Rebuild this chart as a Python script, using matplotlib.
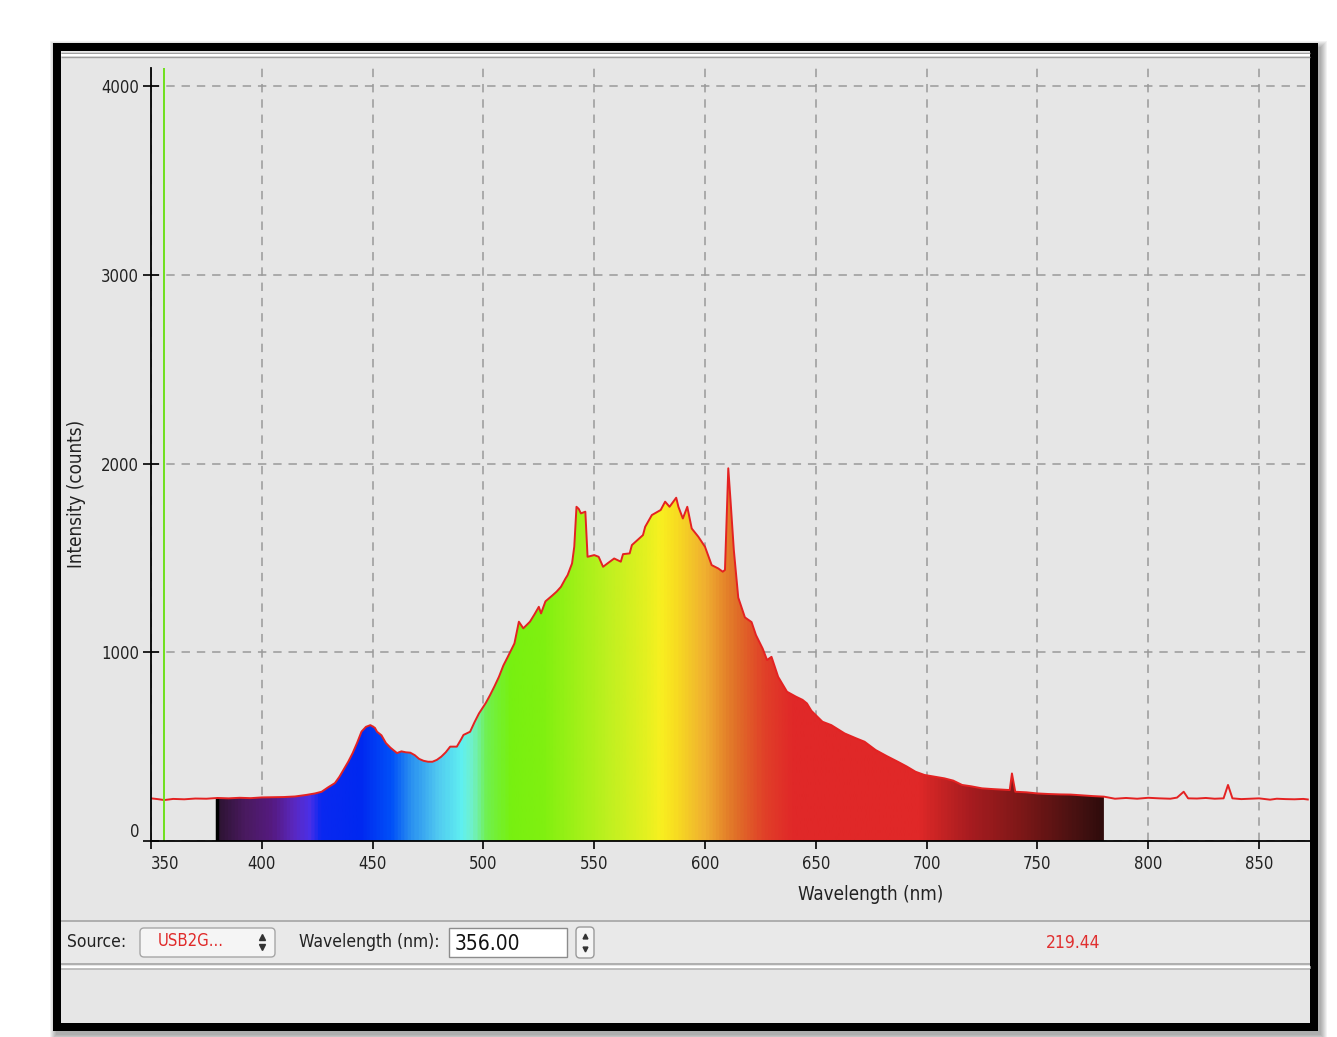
import numpy as np
import matplotlib.pyplot as plt
from matplotlib import patches
from matplotlib.colors import LinearSegmentedColormap

# Spectro (lecturas de la captura)
wavelength = [350, 353, 356, 360, 365, 370, 375, 380, 385, 390, 395, 400, 405, 410, 415,
              420, 424, 427, 430, 433, 435, 437, 439, 441, 443, 445, 447, 449, 451, 452,
              454, 456, 458, 461, 463, 465, 467, 469, 471, 473, 475, 477, 479, 481, 483,
              485, 488, 490, 491, 494, 496, 498, 501, 503, 505, 507, 509, 511, 514, 516,
              518, 521, 523, 525, 526, 528, 531, 533, 535, 537, 538, 540, 541, 542, 543,
              544, 546, 547, 550, 552, 554, 556, 559, 562, 563, 566, 567, 570, 572, 573,
              576, 580, 582, 584, 587, 588, 590, 592, 594, 597, 600, 603, 606, 608, 609,
              610, 610.5, 611.5, 613, 615, 618, 621, 623, 626, 628, 630, 633, 637, 641, 644,
              646, 648, 653, 657, 663, 668, 672, 677, 682, 687, 691, 695, 699, 704, 708, 712,
              716, 720, 725, 730, 735, 737.5, 738.5, 740, 745, 750, 755, 760, 765, 770, 775,
              780, 785, 790, 795, 800, 805, 810, 813, 816, 818, 822, 826, 830, 834, 836,
              838, 842, 846, 850, 855, 858, 862, 866, 870, 872]
intensity = [226, 222, 217, 223, 221, 225, 224, 228, 226, 229, 227, 231, 232, 233, 236,
             244, 252, 261, 285, 307, 340, 380, 420, 466, 520, 580, 605, 614, 600, 579,
             560, 519, 495, 466, 475, 470, 468, 455, 435, 425, 420, 420, 430, 447, 470,
             500, 500, 540, 562, 579, 630, 676, 730, 773, 820, 870, 930, 976, 1047, 1162,
             1127, 1162, 1200, 1241, 1206, 1270, 1300, 1321, 1347, 1390, 1409, 1471, 1560, 1771, 1760,
             1736, 1745, 1506, 1515, 1506, 1453, 1471, 1497, 1480, 1520, 1524, 1568, 1600, 1621, 1665,
             1727, 1754, 1798, 1771, 1819, 1771, 1709, 1771, 1656, 1612, 1559, 1462, 1444, 1427, 1436,
             1800, 1975, 1807, 1542, 1290, 1185, 1160, 1091, 1020, 959, 976, 870, 791, 765, 748,
             729, 690, 632, 614, 570, 545, 526, 482, 450, 420, 395, 367, 350, 340, 332, 320,
             297, 290, 279, 275, 272, 270, 358, 261, 258, 252, 249, 247, 246, 242, 238,
             235, 224, 228, 224, 229, 226, 224, 230, 261, 226, 225, 228, 224, 226, 297,
             226, 222, 224, 226, 219, 224, 222, 221, 223, 220]

band_start, band_end = 380, 780
cursor_nm = 356.00
cursor_value = 219.44
source_name = "USB2G..."

x_ticks = [350, 400, 450, 500, 550, 600, 650, 700, 750, 800, 850]
y_ticks = [0, 1000, 2000, 3000, 4000]

# colores del espectro visible
stop_nm = [380, 392, 404, 414, 421, 426, 444, 458, 467, 479, 490, 495, 501, 512, 527,
           542, 557, 572, 580, 586, 600, 614, 627, 640, 697, 706, 720, 742, 757, 772, 780]
stop_color = ['#2e1434', '#4a1a60', '#551a80', '#5a28c0', '#4a30e8', '#0a28f0', '#0028f0',
              '#0050f8', '#2a90f0', '#50c8f0', '#60f0f0', '#70f0c8', '#70f050', '#78f010',
              '#80f010', '#a0f018', '#c0f020', '#e0f020', '#f8f020', '#f8e020', '#f0b030',
              '#e07028', '#e04028', '#e02828', '#e02828', '#c82424', '#a81c20', '#801818',
              '#601414', '#401010', '#300c0c']

W, H = 1337, 1037
fig = plt.figure(figsize=(W / 100, H / 100), dpi=100, facecolor='white')

cond = dict(family='DejaVu Sans', stretch='condensed')

# ventana (marco, sombra, panel inferior) en coordenadas de pixel
bg = fig.add_axes([0, 0, 1, 1])
bg.set_xlim(0, W)
bg.set_ylim(H, 0)
bg.axis('off')
for i in range(7):
    bg.add_patch(patches.Rectangle((53 - i + 3, 43 - i + 4), 1265 + 2 * i, 988 + 2 * i,
                                   fc='black', ec='none', alpha=0.05))
bg.add_patch(patches.Rectangle((53, 43), 1265, 988, fc='black', ec='none'))
bg.add_patch(patches.Rectangle((61, 51), 1249, 972, fc='#e6e6e6', ec='none'))
bg.hlines([53, 57], 61, 1310, colors='#9c9c9c', lw=1)
bg.hlines([55], 61, 1310, colors='white', lw=1.5)
bg.add_patch(patches.Rectangle((61, 921), 1249, 43, fc='#e9e9e9', ec='none'))
bg.hlines([921, 964], 61, 1310, colors='#a4a4a4', lw=1.2)
bg.hlines([966.5], 61, 1310, colors='white', lw=2)
bg.hlines([969], 61, 1310, colors='#b4b4b4', lw=1.2)

# controles
bg.text(67, 942, "Source:", fontsize=12.5, color='#222222', va='center', ha='left', **cond)
bg.add_patch(patches.FancyBboxPatch((140, 928), 135, 29, boxstyle='round,pad=0,rounding_size=4',
                                    fc='#f5f5f5', ec='#a6a6a6', lw=1))
bg.text(158, 941, source_name, fontsize=12, color='#e02a2a', va='center', ha='left', **cond)
bg.plot([262], [937], marker='^', ms=4, color='#333333')
bg.plot([262], [947], marker='v', ms=4, color='#333333')
bg.text(299, 942, "Wavelength (nm):", fontsize=12.5, color='#222222', va='center', ha='left', **cond)
bg.add_patch(patches.Rectangle((449, 928), 118, 29, fc='white', ec='#8c8c8c', lw=1))
bg.text(455, 944, f"{cursor_nm:.2f}", fontsize=15, color='#111111', va='center', ha='left', **cond)
bg.add_patch(patches.FancyBboxPatch((576, 927), 18, 31, boxstyle='round,pad=0,rounding_size=4',
                                    fc='#f5f5f5', ec='#9a9a9a', lw=1))
bg.plot([585], [936], marker='^', ms=3.5, color='#333333')
bg.plot([585], [949], marker='v', ms=3.5, color='#333333')
bg.text(1073, 943, f"{cursor_value:.2f}", fontsize=12.5, color='#e03030', va='center', ha='center', **cond)

# grafico
ax = fig.add_axes([151 / W, 1 - 841 / H, 1159 / W, 773 / H])
ax.set_facecolor('none')
ax.set_xlim(350, 873)
ax.set_ylim(0, 4096)
ax.set_axisbelow(True)
ax.grid(True, color='#9a9a9a', lw=1.1, dashes=(5.5, 4.5))

wl = np.array(wavelength)
it = np.array(intensity)
dentro = (wl >= band_start) & (wl <= band_end)
poly = ax.fill_between(wl[dentro], it[dentro], 0, color='none', lw=0)

pos = [(n - band_start) / (band_end - band_start) for n in stop_nm]
cmap = LinearSegmentedColormap.from_list('espectro', list(zip(pos, stop_color)))
grad = np.linspace(band_start, band_end, 800).reshape(1, -1)
img = ax.imshow(grad, cmap=cmap, extent=(band_start, band_end, 0, 4096), aspect='auto',
                vmin=band_start, vmax=band_end, interpolation='bilinear', zorder=1)
img.set_clip_path(poly.get_paths()[0], transform=ax.transData)
ax.vlines(band_start, 0, it[wl == band_start][0], color='black', lw=2.5, zorder=1.5)

ax.plot(wl, it, color='#e42222', lw=1.4, zorder=3, clip_on=True)
ax.axvline(cursor_nm, color='#6ee01c', lw=1.4, zorder=3)

for s in ['top', 'right']:
    ax.spines[s].set_visible(False)
for s in ['left', 'bottom']:
    ax.spines[s].set_color('black')
    ax.spines[s].set_linewidth(1.3)
    ax.spines[s].set_zorder(4)

ax.set_xticks(x_ticks)
ax.set_yticks(y_ticks)
ax.tick_params(axis='y', direction='inout', length=11, width=1.2, pad=3, labelsize=12,
               labelcolor='#222222')
ax.tick_params(axis='x', direction='out', length=6, width=1.2, pad=4, labelsize=12,
               labelcolor='#222222')
for lab in ax.get_xticklabels() + ax.get_yticklabels():
    lab.set_fontstretch('condensed')
    lab.set_family('DejaVu Sans')
# como en la captura: "350" corrido a la derecha y "0" algo por encima del eje
ax.get_xticklabels()[0].set_horizontalalignment('left')
ax.get_yticklabels()[0].set_verticalalignment('bottom')

ax.set_xlabel("Wavelength (nm)", fontsize=13.5, color='#222222', **cond)
ax.xaxis.set_label_coords((871 - 151) / 1159, -(885 - 841) / 773)
ax.set_ylabel("Intensity (counts)", fontsize=13.5, color='#222222', **cond)
ax.yaxis.set_label_coords(-(151 - 86) / 1159, (841 - 494) / 773)

fig.savefig('out.png', dpi=100, facecolor='white')
